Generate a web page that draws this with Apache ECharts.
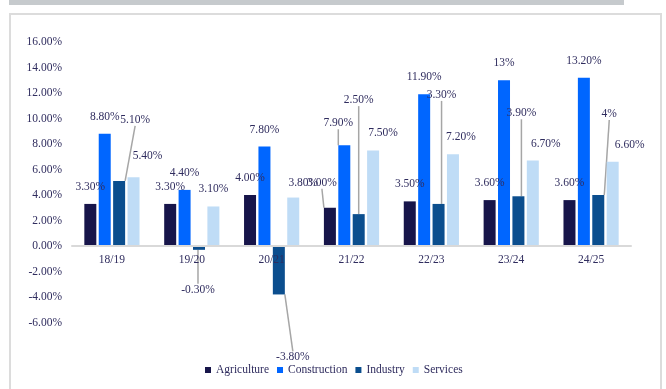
<!DOCTYPE html>
<html>
<head>
<meta charset="utf-8">
<script src="https://cdn.jsdelivr.net/npm/echarts@6/dist/echarts.min.js"></script>
<style>
  html, body { margin: 0; padding: 0; background: #ffffff; }
  #chart { width: 666px; height: 389px; }
</style>
</head>
<body>
<div id="chart"></div>
<script>
// Annual growth by sector, financial years
const categories = ['18/19', '19/20', '20/21', '21/22', '22/23', '23/24', '24/25'];
const seriesNames = ['Agriculture', 'Construction', 'Industry', 'Services'];
const agriculture = [3.3, 3.3, 4.0, 3.0, 3.5, 3.6, 3.6];
const construction = [8.8, 4.4, 7.8, 7.9, 11.9, 13, 13.2];
const industry = [5.1, -0.3, -3.8, 2.5, 3.3, 3.9, 4];
const services = [5.4, 3.1, 3.8, 7.5, 7.2, 6.7, 6.6];
const yTicks = [-6, -4, -2, 0, 2, 4, 6, 8, 10, 12, 14, 16];

// Points whose label is printed without decimals
const wholeLabels = { Construction: [5], Industry: [6] };

// Label nudges [dx, dy] away from the default spot above/below each bar
const labelShift = {
  Agriculture: [[0, 0], [0, 0], [0, 0], [-8, -8], [0, 0], [0, 0], [0, 0]],
  Construction: [[0, 0], [0, 0], [0, 0], [-6, -5], [0, 0], [0, 0], [0, 0]],
  Industry: [[16, -44], [-1, 23], [14, 46], [0, -97], [3, -92], [3, -66], [11, -64]],
  Services: [[14, -4], [0, 0], [10, 2], [10, 0], [8, 0], [13, 0], [17, 0]]
};
// Labels tied back to their bar with a leader line
const leaderLines = {
  Agriculture: [3],
  Construction: [3],
  Industry: [0, 1, 2, 3, 4, 5, 6],
  Services: []
};

const colors = ['#17154a', '#0066ff', '#0b4e8e', '#bfdcf6'];
const textColor = '#2f2c5e';
const fontFamily = '"Liberation Serif", "Times New Roman", serif';
const fontSize = 11.5;

const values = [agriculture, construction, industry, services];

// Plot area
const gridTop = 42;
const gridBottom = 66.5;
const gridHeight = 389 - gridTop - gridBottom;
const yMin = yTicks[0];
const yMax = yTicks[yTicks.length - 1];
// Category axis sits on the zero line, with its labels just beneath it
const zeroOffset = -((0 - yMin) / (yMax - yMin)) * gridHeight;

function fmt(name, idx, v) {
  if ((wholeLabels[name] || []).indexOf(idx) >= 0) return Math.round(v) + '%';
  return v.toFixed(2) + '%';
}

const series = seriesNames.map(function (name, s) {
  return {
    name: name,
    type: 'bar',
    barWidth: 12,
    barGap: '20%',
    itemStyle: { color: colors[s] },
    label: {
      show: true,
      distance: 11,
      color: textColor,
      fontFamily: fontFamily,
      fontSize: fontSize
    },
    labelLine: {
      show: false,
      lineStyle: { color: '#a6a6a6', width: 1.5 }
    },
    labelLayout: function (p) {
      const d = labelShift[name][p.dataIndex];
      return { dx: d[0], dy: d[1] };
    },
    data: values[s].map(function (v, i) {
      return {
        value: v,
        label: {
          position: v < 0 ? 'bottom' : 'top',
          formatter: fmt(name, i, v)
        },
        labelLine: { show: leaderLines[name].indexOf(i) >= 0 }
      };
    })
  };
});

const chart = echarts.init(document.getElementById('chart'), null, { renderer: 'canvas' });
chart.setOption({
  animation: false,
  backgroundColor: '#ffffff',
  color: colors,
  textStyle: { fontFamily: fontFamily },
  graphic: [
    {
      type: 'rect',
      shape: { x: 9, y: 0, width: 615, height: 5 },
      style: { fill: '#c6cacd' },
      silent: true
    },
    {
      type: 'rect',
      shape: { x: 10, y: 14, width: 651, height: 390 },
      style: { fill: 'none', stroke: '#dcdcdc', lineWidth: 2 },
      silent: true
    }
  ],
  grid: {
    left: 72,
    right: 35,
    top: gridTop,
    bottom: gridBottom,
    containLabel: false,
    outerBoundsMode: 'none'
  },
  legend: {
    data: seriesNames,
    left: 200,
    top: 359,
    icon: 'rect',
    itemWidth: 6,
    itemHeight: 6,
    itemGap: 8,
    textStyle: { color: textColor, fontFamily: fontFamily, fontSize: fontSize }
  },
  xAxis: {
    type: 'category',
    data: categories,
    offset: zeroOffset,
    zlevel: 1,
    z: 5,
    axisTick: { show: false },
    axisLine: { show: true, onZero: false, lineStyle: { color: '#d9d9d9', width: 2 } },
    axisLabel: { color: textColor, fontFamily: fontFamily, fontSize: fontSize, margin: 8 }
  },
  yAxis: {
    type: 'value',
    min: yMin,
    max: yMax,
    interval: yTicks[1] - yTicks[0],
    axisLine: { show: false },
    axisTick: { show: false },
    splitLine: { show: false },
    axisLabel: {
      color: textColor,
      fontFamily: fontFamily,
      fontSize: fontSize,
      margin: 10,
      formatter: function (v) { return v.toFixed(2) + '%'; }
    }
  },
  series: series
});
</script>
</body>
</html>
